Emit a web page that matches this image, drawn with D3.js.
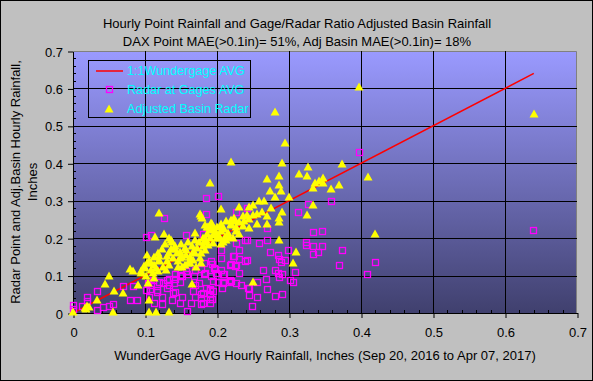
<!DOCTYPE html>
<html><head><meta charset="utf-8">
<script src="https://cdn.jsdelivr.net/npm/d3@7"></script>
<style>
html,body{margin:0;padding:0;background:#c0c0c0;}
svg{display:block;font-family:"Liberation Sans",Arial,sans-serif;}
</style></head>
<body>
<svg id="chart" width="593" height="381"></svg>
<script>
const titleLines = ["Hourly Point Rainfall and Gage/Radar Ratio Adjusted Basin Rainfall",
  "DAX Point MAE(>0.1in)= 51%, Adj Basin MAE(>0.1in)= 18%"];
const xAxisTitle = "WunderGage AVG Hourly Rainfall, Inches (Sep 20, 2016 to Apr 07, 2017)";
const yAxisTitle = ["Radar Point and Adj.Basin Hourly Rainfall,", "Inches"];
const legendLabels = ["1:1Wundergage AVG", "Radar at Gages AVG", "Adjusted Basin Radar"];
const xTicks = [0, 0.1, 0.2, 0.3, 0.4, 0.5, 0.6, 0.7];
const yTicks = [0, 0.1, 0.2, 0.3, 0.4, 0.5, 0.6, 0.7];
const oneToOne = [[0, 0], [0.64, 0.64]];

const radarAtGages = [
[0.397,0.431],[0.419,0.135],[0.409,0.103],[0.639,0.223],
[0.185,0.308],[0.202,0.313],[0.226,0.271],[0.241,0.280],[0.313,0.271],[0.326,0.291],[0.359,0.300],[0.269,0.227],
[0.180,0.210],[0.334,0.216],[0.346,0.220],[0.324,0.191],[0.324,0.182],[0.333,0.178],[0.346,0.180],[0.334,0.157],
[0.340,0.162],[0.373,0.169],[0.369,0.127],[0.226,0.188],[0.239,0.194],[0.259,0.188],[0.269,0.194],[0.206,0.167],
[0.230,0.167],[0.273,0.164],[0.299,0.167],[0.205,0.148],[0.224,0.151],[0.231,0.144],[0.239,0.139],[0.285,0.154],
[0.286,0.144],[0.289,0.135],[0.294,0.142],[0.182,0.133],[0.193,0.131],[0.219,0.130],[0.225,0.126],[0.197,0.117],
[0.206,0.114],[0.184,0.107],[0.210,0.105],[0.230,0.108],[0.264,0.114],[0.280,0.115],[0.285,0.108],[0.290,0.103],
[0.309,0.109],[0.286,0.095],[0.268,0.091],[0.301,0.089],[0.305,0.084],[0.194,0.086],[0.202,0.082],[0.209,0.080],
[0.219,0.086],[0.233,0.075],[0.255,0.082],[0.244,0.068],[0.207,0.068],[0.269,0.065],[0.190,0.064],[0.180,0.053],
[0.190,0.051],[0.193,0.038],[0.244,0.047],[0.255,0.044],[0.280,0.046],[0.290,0.051],[0.180,0.027],[0.190,0.027],
[0.249,0.018],
[0.185,0.265],[0.126,0.255],[0.102,0.204],[0.109,0.209],[0.157,0.209],[0.222,0.153],[0.227,0.129],[0.218,0.129],
[0.196,0.120],[0.182,0.104],[0.191,0.098],[0.199,0.107],[0.208,0.104],[0.208,0.083],[0.218,0.089],[0.227,0.080],
[0.168,0.099],[0.159,0.104],[0.151,0.098],[0.141,0.104],[0.130,0.089],[0.119,0.084],[0.111,0.089],[0.104,0.080],
[0.140,0.080],[0.148,0.084],[0.169,0.075],[0.175,0.080],[0.185,0.067],[0.194,0.058],[0.190,0.038],[0.178,0.040],
[0.169,0.044],[0.164,0.028],[0.159,0.006],[0.107,0.064],[0.106,0.044],[0.116,0.055],[0.123,0.042],[0.124,0.024],
[0.113,0.027],[0.137,0.034],[0.148,0.027],[0.141,0.055],[0.134,0.075],[0.069,0.071],[0.084,0.071],[0.034,0.058],
[0.019,0.043],[0.019,0.031],[0.056,0.025],[0.050,0.018],[0.042,0.015],[0.034,0.007],[0.000,0.022],[0.000,0.011],
[0.012,0.018],[0.079,0.034],[0.089,0.035],[0.178,0.025],[0.217,0.083],
[0.241,0.196],[0.241,0.142],[0.192,0.138],[0.178,0.117],[0.169,0.115],[0.157,0.111],[0.148,0.102],[0.142,0.091],
[0.134,0.091],[0.125,0.080],[0.109,0.075],[0.102,0.062],[0.116,0.062],[0.130,0.067],[0.139,0.053],[0.151,0.044],
[0.167,0.058],[0.190,0.062],[0.178,0.051],[0.201,0.084],[0.243,0.067]
];

const adjBasinRadar = [
[0.397,0.604],[0.640,0.533],[0.410,0.363],[0.419,0.211],
[0.281,0.538],[0.294,0.453],[0.219,0.404],[0.290,0.400],[0.326,0.391],[0.374,0.397],[0.190,0.347],[0.269,0.359],
[0.286,0.367],[0.314,0.372],[0.325,0.367],[0.336,0.348],[0.342,0.354],[0.347,0.362],[0.333,0.333],[0.347,0.348],
[0.359,0.332],[0.369,0.342],[0.273,0.327],[0.286,0.342],[0.289,0.327],[0.281,0.311],[0.300,0.311],[0.259,0.300],
[0.265,0.300],[0.334,0.289],[0.325,0.262],[0.206,0.278],[0.231,0.282],[0.244,0.284],[0.250,0.289],[0.290,0.271],
[0.256,0.264],[0.242,0.262],[0.269,0.260],[0.286,0.253],[0.286,0.244],[0.178,0.258],[0.224,0.253],[0.231,0.242],
[0.219,0.237],[0.227,0.231],[0.236,0.233],[0.244,0.227],[0.256,0.237],[0.269,0.238],[0.206,0.237],[0.186,0.231],
[0.194,0.231],[0.190,0.222],[0.197,0.213],[0.201,0.209],[0.205,0.218],[0.211,0.204],[0.217,0.203],[0.208,0.191],
[0.205,0.184],[0.182,0.189],[0.188,0.182],[0.180,0.178],[0.286,0.196],[0.310,0.163],[0.306,0.133],[0.250,0.082],
[0.178,0.160],
[0.119,0.268],[0.177,0.265],[0.179,0.253],[0.187,0.231],[0.193,0.238],[0.219,0.249],[0.114,0.203],[0.126,0.211],
[0.134,0.200],[0.137,0.191],[0.169,0.213],[0.169,0.196],[0.185,0.196],[0.194,0.209],[0.204,0.200],[0.213,0.196],
[0.222,0.200],[0.227,0.218],[0.141,0.171],[0.148,0.164],[0.134,0.160],[0.130,0.151],[0.120,0.142],[0.103,0.155],
[0.103,0.133],[0.113,0.129],[0.109,0.115],[0.118,0.111],[0.129,0.115],[0.134,0.129],[0.146,0.124],[0.155,0.129],
[0.162,0.133],[0.171,0.124],[0.178,0.133],[0.079,0.117],[0.084,0.111],[0.094,0.108],[0.050,0.099],[0.045,0.077],
[0.057,0.060],[0.069,0.053],[0.090,0.075],[0.104,0.080],[0.105,0.035],[0.034,0.034],[0.019,0.018],[0.016,0.013],
[0.000,0.002],[0.056,0.004],[0.105,0.002],[0.115,0.002],[0.134,0.002],[0.165,0.077],[0.022,0.015],[0.018,0.010],
[0.192,0.240],[0.184,0.234],[0.205,0.235],[0.220,0.235],[0.236,0.258],[0.136,0.196],[0.200,0.200],[0.194,0.187],
[0.183,0.169],[0.167,0.164],[0.157,0.169],[0.144,0.160],[0.120,0.151],[0.109,0.133],[0.120,0.138],[0.125,0.124],
[0.139,0.147],[0.148,0.147],[0.157,0.155],[0.151,0.124],[0.160,0.133],[0.167,0.142],[0.176,0.147],[0.095,0.111],
[0.102,0.098],[0.111,0.107],[0.113,0.093],
[0.100,0.120],[0.106,0.140],[0.112,0.150],[0.118,0.160],[0.124,0.170],[0.130,0.140],[0.136,0.170],[0.142,0.180],
[0.150,0.185],[0.155,0.175],[0.160,0.190],[0.165,0.180],[0.172,0.175],[0.175,0.190],[0.180,0.200],[0.186,0.210],
[0.190,0.200],[0.196,0.225],[0.200,0.230],[0.210,0.225],[0.215,0.215],[0.212,0.245],[0.225,0.245],[0.230,0.210],
[0.238,0.245],[0.245,0.250],[0.250,0.262],[0.262,0.270],[0.275,0.280],[0.128,0.185],[0.146,0.140],[0.152,0.150],
[0.098,0.125],[0.115,0.120],[0.163,0.150],[0.170,0.160]
];

const W = 593, H = 381;
const plot = {left: 73, right: 577, top: 51, bottom: 313};
const svg = d3.select("#chart");

const x = d3.scaleLinear().domain([0, 0.7]).range([plot.left, plot.right]);
const y = d3.scaleLinear().domain([0, 0.7]).range([plot.bottom, plot.top]);

svg.append("rect").attr("x", 0.5).attr("y", 0.5).attr("width", W - 1).attr("height", H - 1)
  .attr("fill", "#c0c0c0").attr("stroke", "#000").attr("stroke-width", 1);

const defs = svg.append("defs");
const grad = defs.append("linearGradient").attr("id", "pg").attr("x1", 0).attr("y1", 0).attr("x2", 0).attr("y2", 1);
grad.append("stop").attr("offset", "0%").attr("stop-color", "#9a9aff");
grad.append("stop").attr("offset", "100%").attr("stop-color", "#40406e");
svg.append("rect").attr("x", plot.left).attr("y", plot.top)
  .attr("width", plot.right - plot.left).attr("height", plot.bottom - plot.top)
  .attr("fill", "url(#pg)");

svg.append("path").attr("d", `M${plot.left},${plot.top + 0.5}H${plot.right - 0.5}V${plot.bottom}`)
  .attr("fill", "none").attr("stroke", "#808080").attr("stroke-width", 1);

const crisp = v => Math.round(v) + 0.5;

const grid = svg.append("g").attr("stroke", "#000").attr("stroke-width", 1);
xTicks.filter(t => t > 0 && t < 0.7).forEach(t => {
  grid.append("line").attr("x1", crisp(x(t))).attr("x2", crisp(x(t))).attr("y1", plot.top).attr("y2", plot.bottom);
});
yTicks.filter(t => t > 0 && t < 0.7).forEach(t => {
  grid.append("line").attr("y1", crisp(y(t))).attr("y2", crisp(y(t))).attr("x1", plot.left).attr("x2", plot.right);
});

const xAxisG = svg.append("g").attr("transform", `translate(0.5,${crisp(plot.bottom) - 0.5})`)
  .call(d3.axisBottom(x).tickValues(xTicks).tickSize(5).tickSizeOuter(0).tickFormat(d3.format("")));
const yAxisG = svg.append("g").attr("transform", `translate(${crisp(plot.left) - 0.5},0.5)`)
  .call(d3.axisLeft(y).tickValues(yTicks).tickSize(5).tickSizeOuter(0).tickFormat(d3.format("")));
[xAxisG, yAxisG].forEach(g => {
  g.select(".domain").attr("stroke", "#000");
  g.selectAll(".tick line").attr("stroke", "#000");
  g.selectAll("text").attr("font-family", "Liberation Sans, Arial, sans-serif").attr("font-size", 13).attr("fill", "#000");
});
xAxisG.selectAll("text").attr("dy", null).attr("y", 24);
yAxisG.selectAll("text").attr("x", -10).attr("dy", "0.35em");

const minorX = d3.range(0, 71, 2).filter(i => i % 10 !== 0).map(i => i / 100);
svg.append("g").selectAll("line").data(minorX).join("line")
  .attr("x1", d => crisp(x(d))).attr("x2", d => crisp(x(d)))
  .attr("y1", plot.bottom).attr("y2", plot.bottom - 3).attr("stroke", "#000");
svg.append("g").selectAll("line").data(minorX).join("line")
  .attr("y1", d => crisp(y(d))).attr("y2", d => crisp(y(d)))
  .attr("x1", plot.left).attr("x2", plot.left + 3).attr("stroke", "#000");

const line = d3.line().x(d => x(d[0])).y(d => y(d[1]));
svg.append("path").datum(oneToOne).attr("d", line).attr("fill", "none")
  .attr("stroke", "#ff0000").attr("stroke-width", 1.5);

svg.append("g").selectAll("rect").data(radarAtGages).join("rect")
  .attr("x", d => Math.round(x(d[0])) - 3 + 0.5).attr("y", d => Math.round(y(d[1])) - 3 + 0.5)
  .attr("width", 6).attr("height", 6).attr("fill", "none")
  .attr("stroke", "#ff00ff").attr("stroke-width", 1.3);

const tri = (cx, cy) => `M${cx},${cy - 4.5}L${cx + 4.5},${cy + 3.5}L${cx - 4.5},${cy + 3.5}Z`;
svg.append("g").selectAll("path").data(adjBasinRadar).join("path")
  .attr("d", d => tri(Math.round(x(d[0])), Math.round(y(d[1]))))
  .attr("fill", "#ffff00");

const tg = svg.append("g").attr("font-size", 13).attr("fill", "#000").attr("text-anchor", "middle");
tg.append("text").attr("x", 297).attr("y", 28).text(titleLines[0]);
tg.append("text").attr("x", 297).attr("y", 46).text(titleLines[1]);
svg.append("text").attr("x", (plot.left + plot.right) / 2).attr("y", 360)
  .attr("text-anchor", "middle").attr("font-size", 13).text(xAxisTitle);
const yt = svg.append("text").attr("transform", `translate(20,${(plot.top + plot.bottom) / 2}) rotate(-90)`)
  .attr("text-anchor", "middle").attr("font-size", 13);
yt.append("tspan").attr("x", 0).attr("y", 0).text(yAxisTitle[0]);
yt.append("tspan").attr("x", 0).attr("y", 17).text(yAxisTitle[1]);

const lg = svg.append("g");
lg.append("rect").attr("x", 88.5).attr("y", 60.5).attr("width", 162).attr("height", 57)
  .attr("fill", "none").attr("stroke", "#000").attr("stroke-width", 1);
const rows = [71, 90, 109];
lg.append("line").attr("x1", 96).attr("x2", 123).attr("y1", rows[0]).attr("y2", rows[0])
  .attr("stroke", "#ff0000").attr("stroke-width", 1.5);
lg.append("rect").attr("x", 106.5).attr("y", rows[1] - 3.5).attr("width", 6).attr("height", 6)
  .attr("fill", "none").attr("stroke", "#ff00ff").attr("stroke-width", 1.3);
lg.append("path").attr("d", tri(109, rows[2])).attr("fill", "#ffff00");
lg.selectAll("text.lab").data(legendLabels).join("text").attr("class", "lab")
  .attr("x", 127).attr("y", (d, i) => rows[i]).attr("dy", "0.35em")
  .attr("font-size", 12.6).attr("fill", "#00ffff").text(d => d);
</script>
</body></html>
